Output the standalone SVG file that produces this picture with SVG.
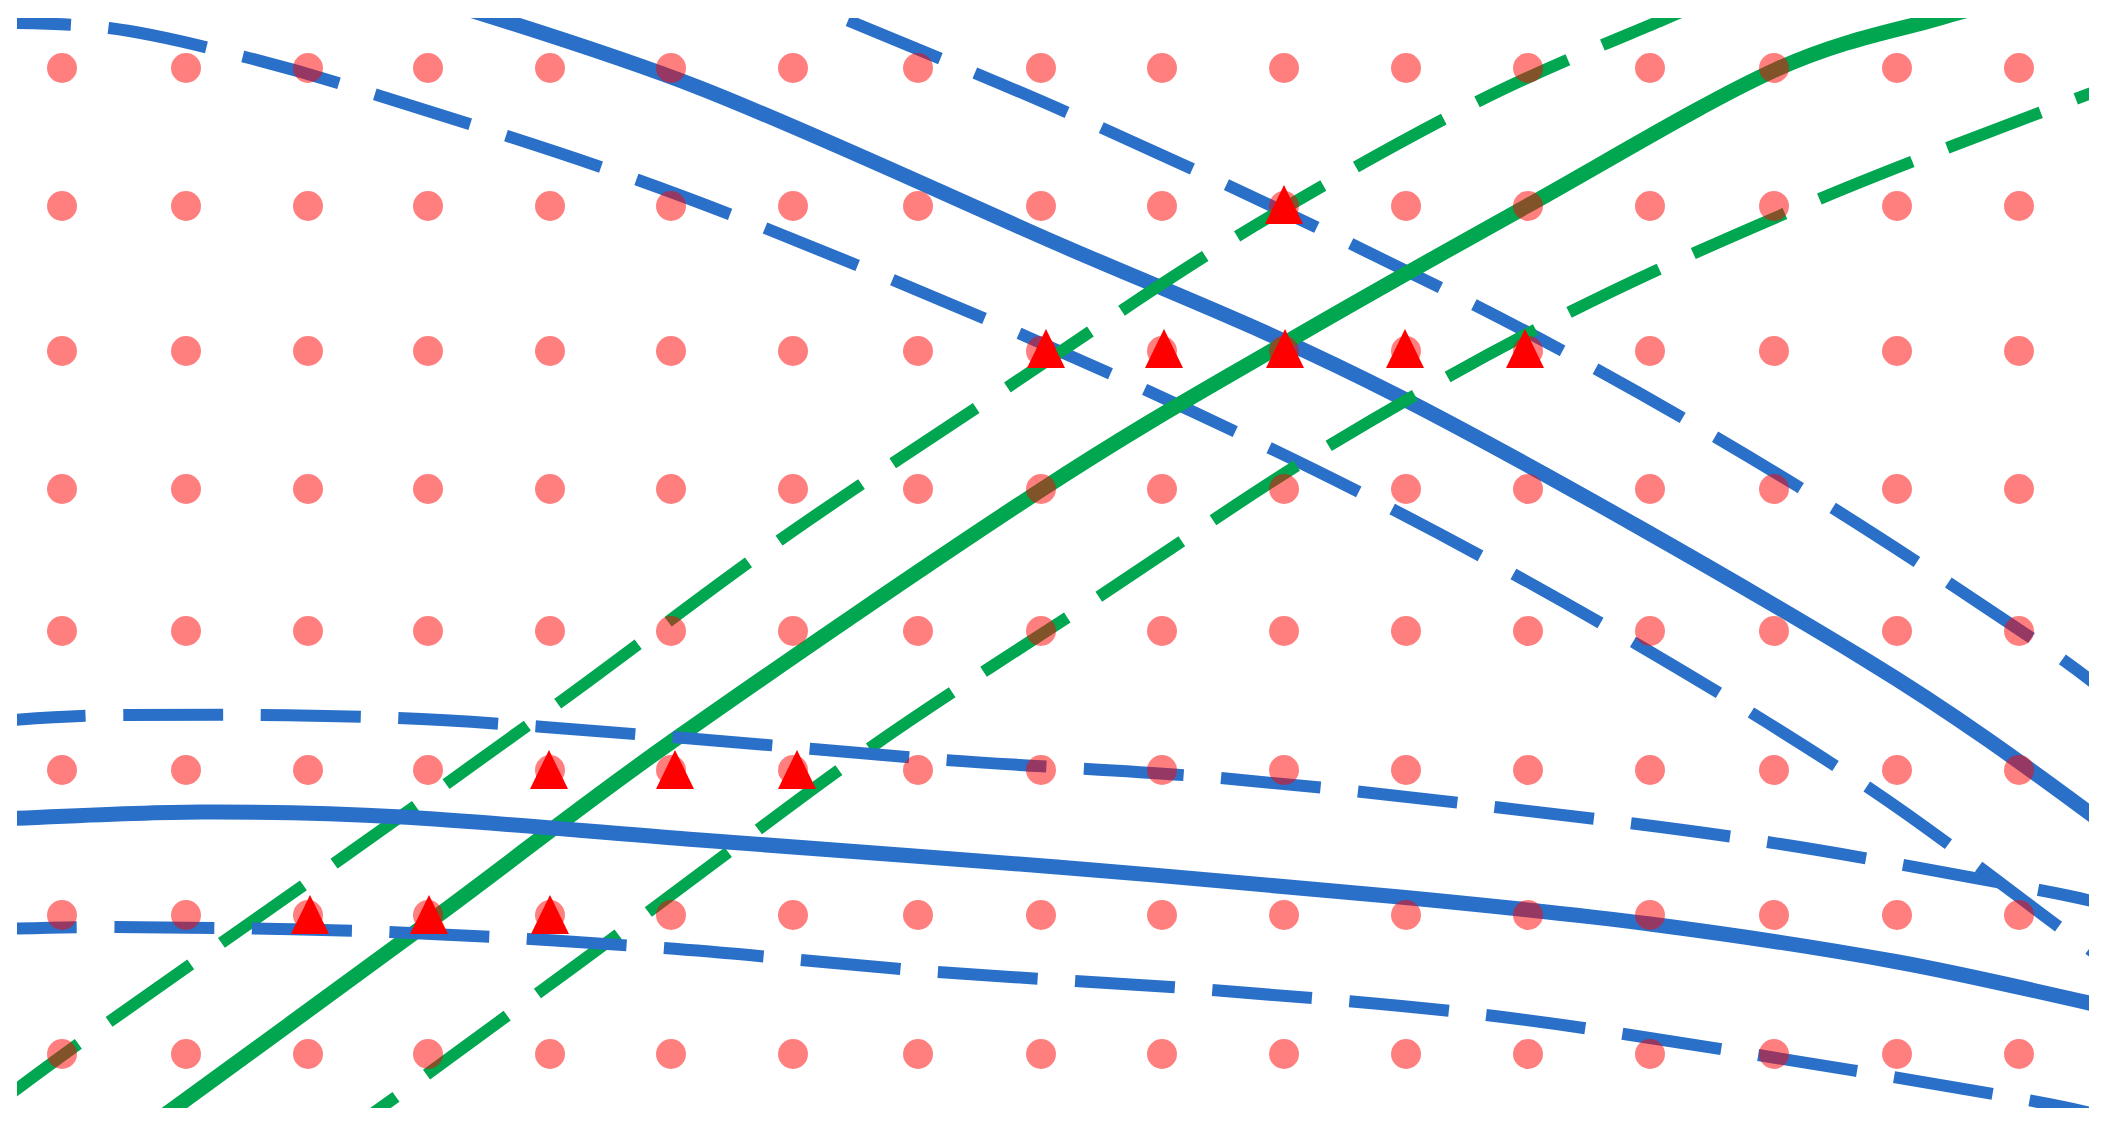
<svg xmlns="http://www.w3.org/2000/svg" xmlns:xlink="http://www.w3.org/1999/xlink" width="2110" height="1134" viewBox="0 0 2110 1134">
<style>
.blue{fill:none;stroke:#2a70c8}
.green{fill:none;stroke:#00a650}
.solid{stroke-width:15}
.dash{stroke-width:12;stroke-dasharray:100 37.5;stroke-linecap:butt}
.dot{fill:#ff0000;fill-opacity:0.5}
.tri{fill:#ff0000}
</style>
<defs>
<clipPath id="frame"><rect x="17" y="18" width="2072" height="1090"/></clipPath>
<g id="row">
<circle class="dot" cx="62" cy="0" r="15"/><circle class="dot" cx="186" cy="0" r="15"/><circle class="dot" cx="308" cy="0" r="15"/><circle class="dot" cx="428" cy="0" r="15"/><circle class="dot" cx="550" cy="0" r="15"/><circle class="dot" cx="671" cy="0" r="15"/><circle class="dot" cx="793" cy="0" r="15"/><circle class="dot" cx="918" cy="0" r="15"/><circle class="dot" cx="1041" cy="0" r="15"/><circle class="dot" cx="1162" cy="0" r="15"/><circle class="dot" cx="1284" cy="0" r="15"/><circle class="dot" cx="1406" cy="0" r="15"/><circle class="dot" cx="1528" cy="0" r="15"/><circle class="dot" cx="1650" cy="0" r="15"/><circle class="dot" cx="1774" cy="0" r="15"/><circle class="dot" cx="1897" cy="0" r="15"/><circle class="dot" cx="2019" cy="0" r="15"/>
</g>
<path id="tri" class="tri" d="M-19,18 L0,-21 L19,18 Z"/>
</defs>
<rect width="2110" height="1134" fill="#ffffff"/>
<g id="connectors" clip-path="url(#frame)">
<path id="blue-top-solid" class="blue solid" d="M439,0 C482.5,14.7 599.8,48.7 700,88 C800.2,127.3 923.3,184.5 1040,236 C1156.7,287.5 1262.3,326.3 1400,397 C1537.7,467.7 1746,587 1866,660 C1986,733 2077.7,805.8 2120,835"/>
<path id="blue-top-dash-upper" class="blue dash" d="M721,-32 C742,-23.3 789.5,-4 847,20 C904.5,44 987.8,77.5 1066,112 C1144.2,146.5 1233.5,187.3 1316,227 C1398.5,266.7 1480.5,306.7 1561,350 C1641.5,393.3 1720.8,439.2 1799,487 C1877.2,534.8 1976.5,601 2030,637 C2083.5,673 2105,692 2120,703"/>
<path id="blue-top-dash-lower" class="blue dash" d="M-29,22 C-6,23 63.3,22.2 109,28 C154.7,33.8 200.3,45.8 245,57 C289.7,68.2 311.5,74.5 377,95 C442.5,115.5 552,149.2 638,180 C724,210.8 808.3,245 893,280 C977.7,315 1062.5,351.7 1146,390 C1229.5,428.3 1312.5,467.8 1394,510 C1475.5,552.2 1555.8,596.7 1635,643 C1714.2,689.3 1798.3,740.7 1869,788 C1939.7,835.3 2017.2,896.3 2059,927 C2100.8,957.7 2109.8,964.5 2120,972"/>
<path id="green-solid" class="green solid" d="M103,1160 C157.3,1120.3 333.8,992 429,922 C524.2,852 572,812 674,740 C776,668 939.2,556.2 1041,490 C1142.8,423.8 1204,390.3 1285,343 C1366,295.7 1445.3,251.5 1527,206 C1608.7,160.5 1706.2,101.3 1775,70 C1843.8,38.7 1900.8,29.7 1940,18 C1979.2,6.3 1998.3,3 2010,0"/>
<path id="green-dash-upper" class="green dash" d="M-2,1103 C16.5,1089.5 52.8,1062 109,1022 C165.2,982 259.8,916.3 335,863 C410.2,809.7 485.8,755.8 560,702 C634.2,648.2 705.3,592.5 780,540 C854.7,487.5 932,437.5 1008,387 C1084,336.5 1158.2,284.3 1236,237 C1313.8,189.7 1403.2,139.5 1475,103 C1546.8,66.5 1626.2,35.7 1667,18 C1707.8,0.3 1711.2,0.5 1720,-3"/>
<path id="green-dash-lower" class="green dash" d="M315,1155 C333.5,1141.7 370.7,1115.3 426,1075 C481.3,1034.7 573,967.5 647,913 C721,858.5 795,800.5 870,748 C945,695.5 1020.8,648.2 1097,598 C1173.2,547.8 1248.5,494.5 1327,447 C1405.5,399.5 1486.3,354.2 1568,313 C1649.7,271.8 1732.8,235.5 1817,200 C1901.2,164.5 2020.8,120 2073,100 C2128.5,78.7 2137.2,76.7 2150,72"/>
<path id="blue-bottom-solid" class="blue solid" d="M0,819 C33.3,817.8 133,812.3 200,812 C267,811.7 318.7,812.3 402,817 C485.3,821.7 590.8,831.7 700,840 C809.2,848.3 940.3,857.5 1057,867 C1173.7,876.5 1301.2,887.5 1400,897 C1498.8,906.5 1567,913.2 1650,924 C1733,934.8 1819.7,947.7 1898,962 C1976.3,976.3 2083,1002 2120,1010"/>
<path id="blue-bottom-dash-upper" class="blue dash" d="M-14,722 C8.8,720.8 54.5,715.7 123,715 C191.5,714.3 305.5,714.3 397,718 C488.5,721.7 580.7,730 672,737 C763.3,744 853.7,753.2 945,760 C1036.3,766.8 1128.3,770.2 1220,778 C1311.7,785.8 1403.8,796.3 1495,807 C1586.2,817.7 1676.3,828.2 1767,842 C1857.7,855.8 1980.2,879 2039,890 C2097.8,901 2106.5,905 2120,908"/>
<path id="blue-bottom-dash-lower" class="blue dash" d="M-23,930 C-0.2,929.5 45.5,926.7 114,927 C182.5,927.3 296.5,928.5 388,932 C479.5,935.5 571.5,941.3 663,948 C754.5,954.7 845.7,965 937,972 C1028.3,979 1119.5,982.8 1211,990 C1302.5,997.2 1394.8,1004.2 1486,1015 C1577.2,1025.8 1667.8,1040.8 1758,1055 C1848.2,1069.2 1966.7,1089.2 2027,1100 C2087.3,1110.8 2104.5,1116.7 2120,1120"/>
</g>
<g id="grid">
<use xlink:href="#row" href="#row" y="68"/>
<use xlink:href="#row" href="#row" y="206"/>
<use xlink:href="#row" href="#row" y="351"/>
<use xlink:href="#row" href="#row" y="489"/>
<use xlink:href="#row" href="#row" y="631"/>
<use xlink:href="#row" href="#row" y="770"/>
<use xlink:href="#row" href="#row" y="915"/>
<use xlink:href="#row" href="#row" y="1054"/>
</g>
<g id="markers">
<use href="#tri" x="1284" y="206"/>
<use href="#tri" x="1046" y="350"/>
<use href="#tri" x="1164" y="350"/>
<use href="#tri" x="1285" y="350"/>
<use href="#tri" x="1405" y="350"/>
<use href="#tri" x="1525" y="350"/>
<use href="#tri" x="549" y="771"/>
<use href="#tri" x="675" y="771"/>
<use href="#tri" x="797" y="771"/>
<use href="#tri" x="310" y="916"/>
<use href="#tri" x="429" y="916"/>
<use href="#tri" x="550" y="916"/>
</g>
</svg>
